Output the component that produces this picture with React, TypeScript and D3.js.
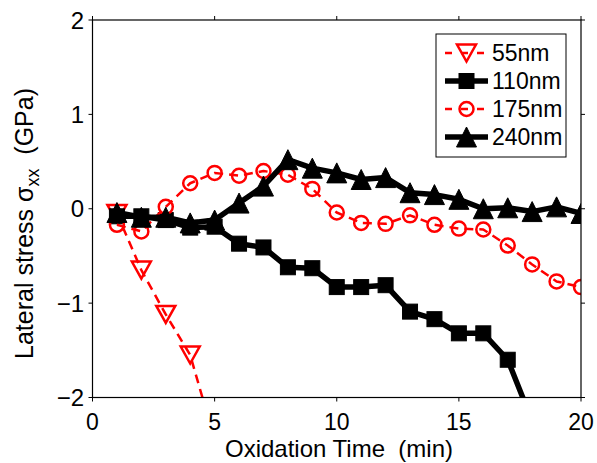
import React from "react";
import * as d3 from "d3";

const times = [1, 2, 3, 4, 5, 6, 7, 8, 9, 10, 11, 12, 13, 14, 15, 16, 17, 18, 19, 20];
const s55 = [-0.05, -0.65, -1.12, -1.55, -2.45];
const s110 = [-0.08, -0.08, -0.12, -0.2, -0.19, -0.37, -0.41, -0.62, -0.63, -0.83, -0.83, -0.81, -1.09, -1.17, -1.32, -1.32, -1.6, -2.25];
const s175 = [-0.17, -0.24, 0.02, 0.27, 0.38, 0.35, 0.4, 0.36, 0.21, -0.04, -0.15, -0.16, -0.07, -0.17, -0.21, -0.22, -0.39, -0.59, -0.77, -0.83];
const s240 = [-0.04, -0.09, -0.09, -0.15, -0.12, 0.06, 0.24, 0.52, 0.43, 0.38, 0.31, 0.33, 0.17, 0.15, 0.1, 0.0, 0.01, -0.03, 0.02, -0.05];
const seriesNames = ["55nm", "110nm", "175nm", "240nm"];
const xTicks = [0, 5, 10, 15, 20];
const yTicks = [-2, -1, 0, 1, 2];

const W = 597, H = 463;
const L = 92.5, R = 581, T = 20, B = 397.5;
const FONT = "Liberation Sans, Arial, Helvetica, sans-serif";

type Marker = "tri-down" | "square" | "circle" | "tri-up";

function MarkerShape({ kind, cx, cy, color }: { kind: Marker; cx: number; cy: number; color: string }) {
  if (kind === "tri-down") {
    const w = 9.5, h = 8.5;
    return <path d={`M${cx - w},${cy - h}L${cx + w},${cy - h}L${cx},${cy + h}Z`} fill="none" stroke={color} strokeWidth={2.5} strokeLinejoin="miter" />;
  }
  if (kind === "tri-up") {
    const w = 10, h = 10;
    return <path d={`M${cx - w},${cy + h}L${cx + w},${cy + h}L${cx},${cy - h}Z`} fill="#000" stroke="#000" strokeWidth={1} />;
  }
  if (kind === "square") {
    const s = 7.5;
    return <rect x={cx - s} y={cy - s} width={2 * s} height={2 * s} fill="#000" stroke="#000" strokeWidth={1} />;
  }
  return <circle cx={cx} cy={cy} r={7} fill="none" stroke={color} strokeWidth={2.5} />;
}

export default function App() {
  const x = d3.scaleLinear().domain([0, 20]).range([L, R]);
  const y = d3.scaleLinear().domain([-2, 2]).range([B, T]);
  const line = d3.line<[number, number]>().x((d) => x(d[0])).y((d) => y(d[1]));

  const series = [
    { name: seriesNames[0], vals: s55, color: "#ff0000", dash: "9,6", width: 2.5, marker: "tri-down" as Marker },
    { name: seriesNames[1], vals: s110, color: "#000000", dash: undefined, width: 5.5, marker: "square" as Marker },
    { name: seriesNames[2], vals: s175, color: "#ff0000", dash: "9,6", width: 2.5, marker: "circle" as Marker },
    { name: seriesNames[3], vals: s240, color: "#000000", dash: undefined, width: 5.5, marker: "tri-up" as Marker },
  ];

  const legendY = [53, 81, 109, 137];

  return (
    <svg width={W} height={H} style={{ position: "absolute", left: 0, top: 0, background: "#fff" }} fontFamily={FONT}>
      <rect x={0} y={0} width={W} height={H} fill="#fff" />
      <defs>
        <clipPath id="plotclip">
          <rect x={L} y={T} width={R - L} height={B - T} />
        </clipPath>
      </defs>
      <g clipPath="url(#plotclip)">
        {series.map((s) => {
          const pts = s.vals.map((v, i) => [times[i], v] as [number, number]);
          return (
            <g key={s.name}>
              <path d={line(pts) || ""} fill="none" stroke={s.color} strokeWidth={s.width} strokeDasharray={s.dash} strokeLinejoin="round" />
              {pts.map((p, i) => (
                <MarkerShape key={i} kind={s.marker} cx={x(p[0])} cy={y(p[1])} color={s.color} />
              ))}
            </g>
          );
        })}
      </g>
      <rect x={L} y={T} width={R - L} height={B - T} fill="none" stroke="#000" strokeWidth={1.2} />
      {xTicks.map((t) => (
        <g key={"x" + t}>
          <line x1={x(t)} x2={x(t)} y1={B} y2={B + 4} stroke="#000" strokeWidth={1} />
          <line x1={x(t)} x2={x(t)} y1={T} y2={T - 4} stroke="#000" strokeWidth={1} />
          <text x={x(t)} y={430} textAnchor="middle" fontSize={23} fill="#000">{t}</text>
        </g>
      ))}
      {yTicks.map((t) => (
        <g key={"y" + t}>
          <line x1={L} x2={L - 4} y1={y(t)} y2={y(t)} stroke="#000" strokeWidth={1} />
          <line x1={R} x2={R + 4} y1={y(t)} y2={y(t)} stroke="#000" strokeWidth={1} />
          <text x={84} y={y(t) + 8.5} textAnchor="end" fontSize={24} fill="#000">{t < 0 ? "\u2212" + Math.abs(t) : String(t)}</text>
        </g>
      ))}
      <text x={339} y={457} textAnchor="middle" fontSize={24} fill="#000" xmlSpace="preserve">Oxidation Time  (min)</text>
      <text transform={`translate(33,223.5) rotate(-90)`} textAnchor="middle" fontSize={25} fill="#000" xmlSpace="preserve">
        Lateral stress σ<tspan dy={6} fontSize={18}>xx</tspan><tspan dy={-6}>  (GPa)</tspan>
      </text>
      <rect x={436} y={34} width={130} height={123} fill="#fff" stroke="#000" strokeWidth={1} />
      {series.map((s, i) => (
        <g key={"lg" + s.name}>
          <line x1={445} x2={488} y1={legendY[i]} y2={legendY[i]} stroke={s.color} strokeWidth={s.width} strokeDasharray={s.dash ? "7,9" : undefined} />
          <MarkerShape kind={s.marker} cx={466.5} cy={legendY[i]} color={s.color} />
          <text x={492} y={legendY[i] + 8} fontSize={23} fill="#000">{s.name}</text>
        </g>
      ))}
    </svg>
  );
}
